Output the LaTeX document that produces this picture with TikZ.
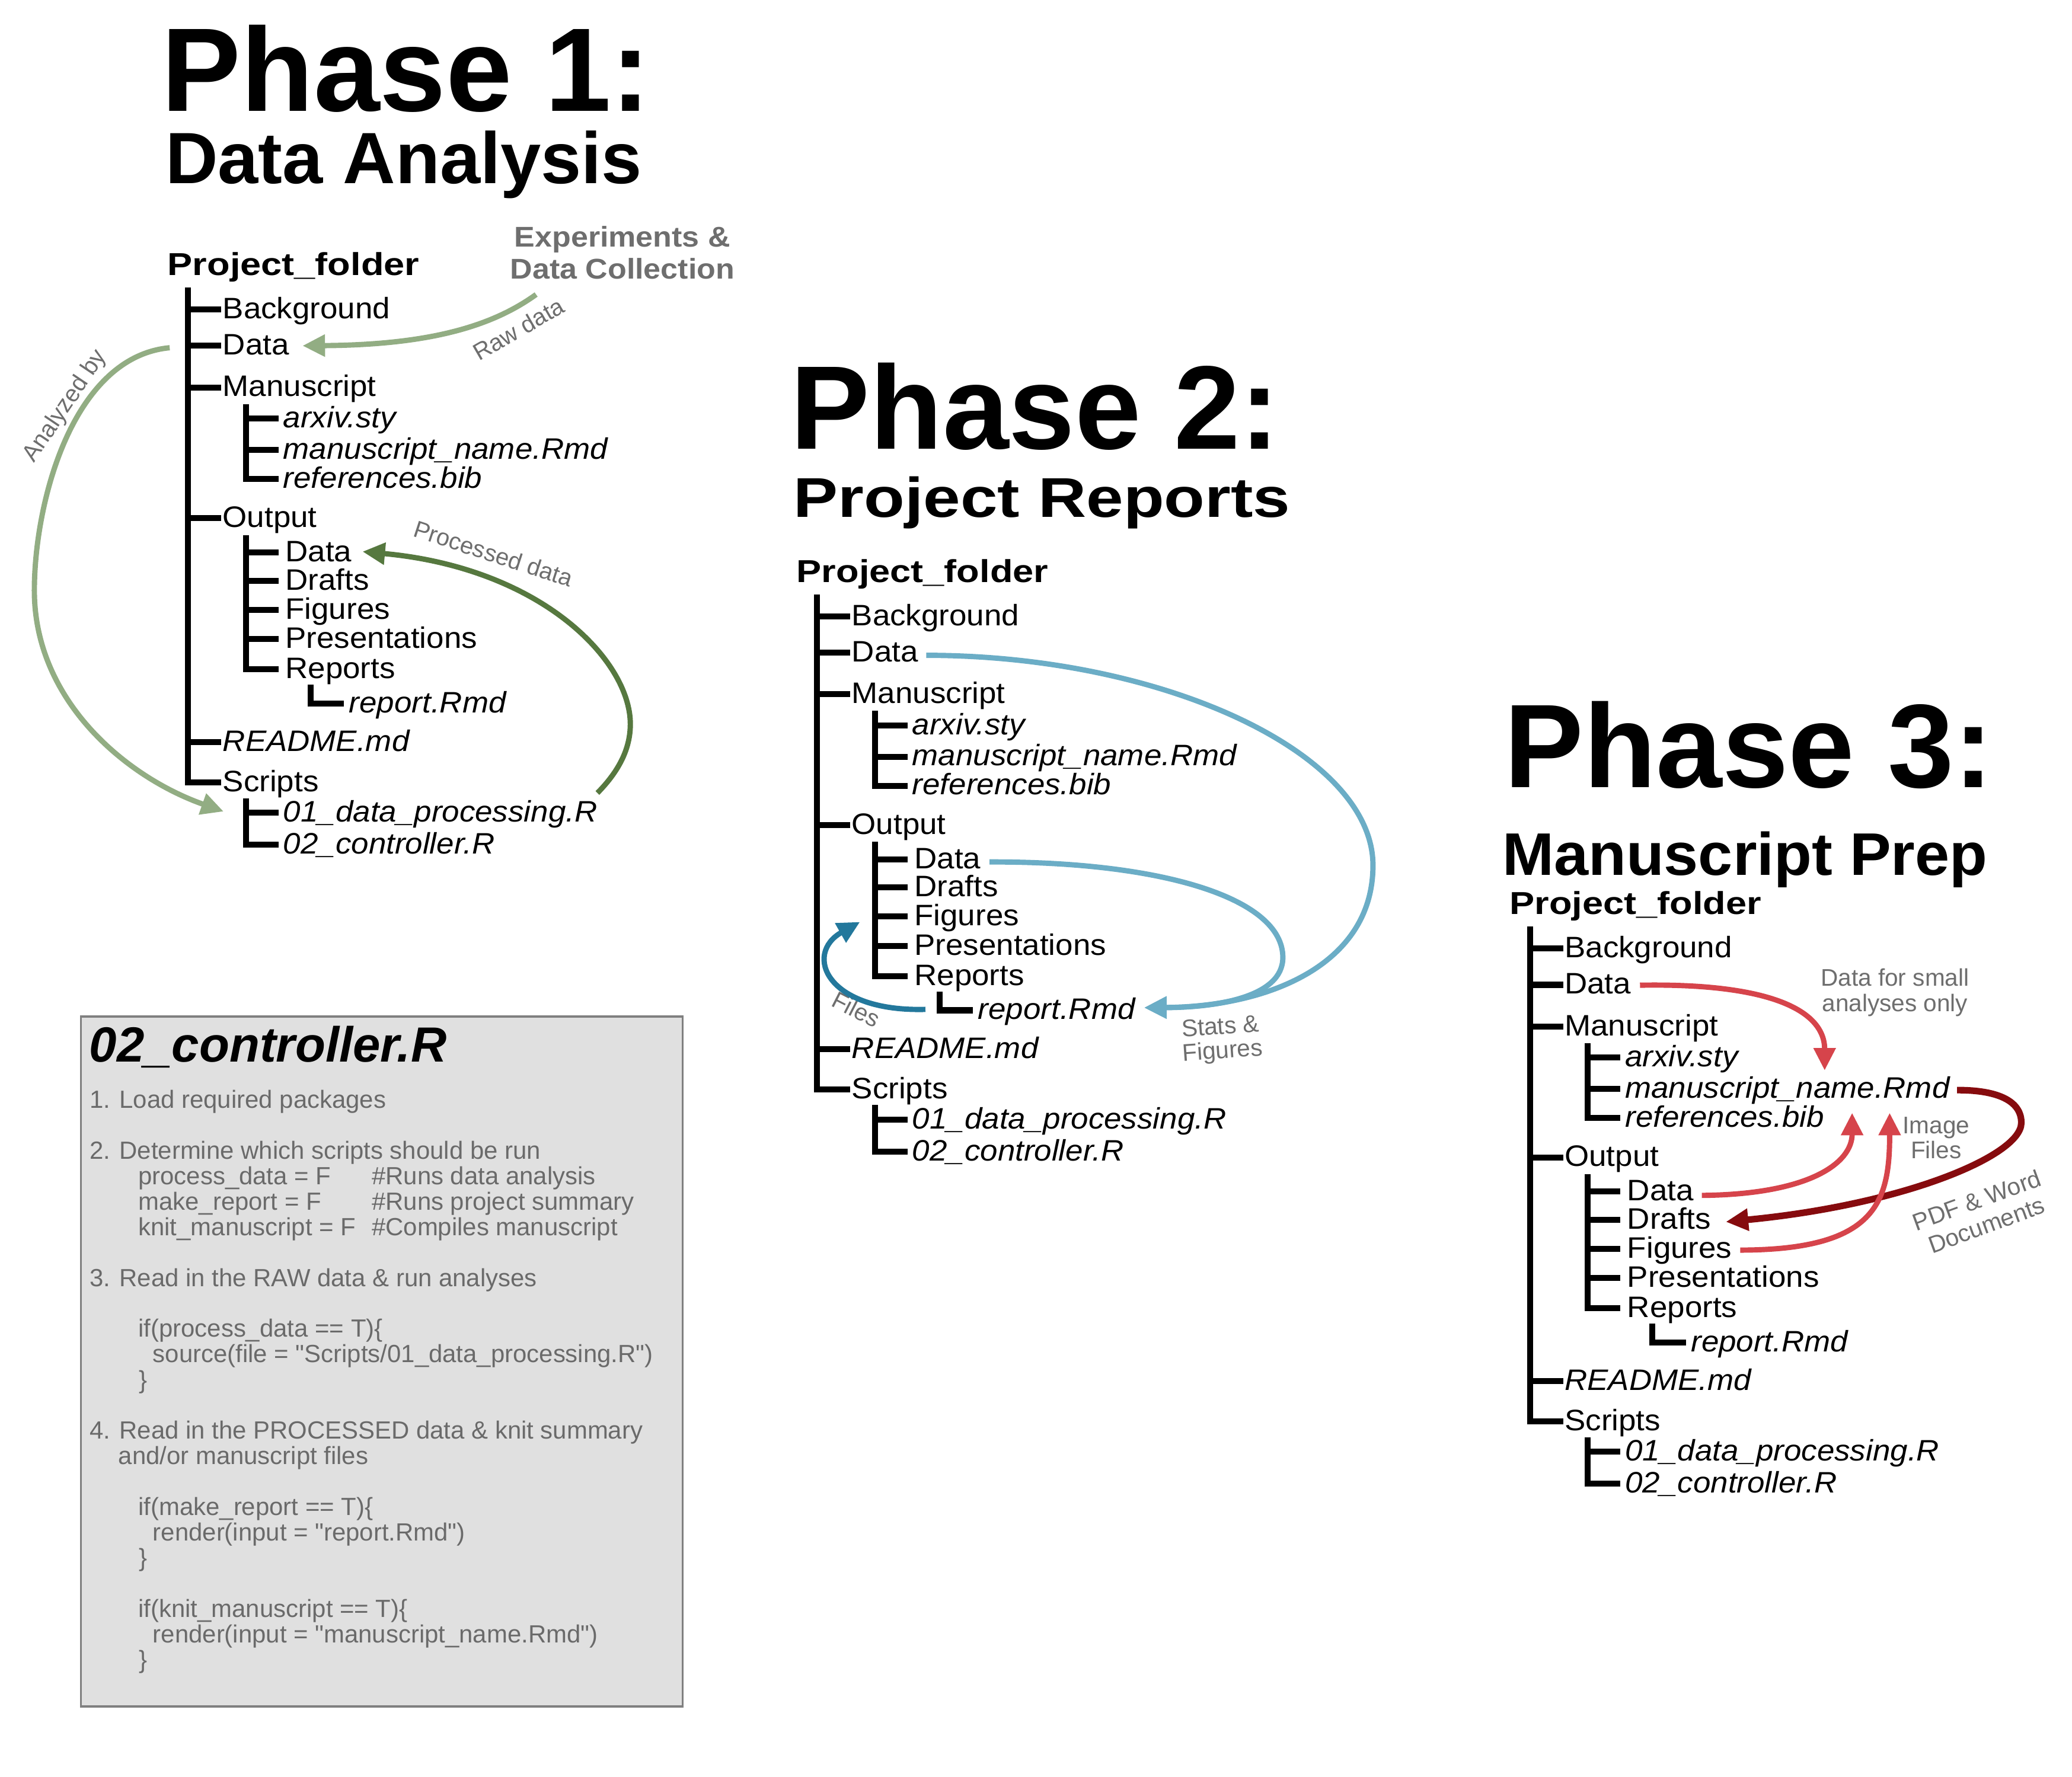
\documentclass[tikz,border=0pt]{standalone}
\usepackage{fontspec}
\setmainfont{Liberation Sans}
\newfontfamily\treefnt{Liberation Sans}[FakeStretch=1.06]
\newfontfamily\pffnt{Liberation Sans}[FakeStretch=1.18]
\newfontfamily\prfnt{Liberation Sans}[FakeStretch=1.19]
\newfontfamily\mpfnt{Liberation Sans}[FakeStretch=1.03]
\newfontfamily\expfnt{Liberation Sans}[FakeStretch=1.08]
\newfontfamily\codefnt{Liberation Sans}
\usetikzlibrary{arrows.meta,calc}
\definecolor{lgreen}{HTML}{92AD83}
\definecolor{dgreen}{HTML}{56783F}
\definecolor{lblue}{HTML}{6BADC6}
\definecolor{dblue}{HTML}{23789C}
\definecolor{lred}{HTML}{D6444B}
\definecolor{dred}{HTML}{860B0E}
\definecolor{lgray}{HTML}{6E6E6E}
\definecolor{codegray}{HTML}{6A6A6A}
\definecolor{boxfill}{HTML}{E0E0E0}
\definecolor{boxline}{HTML}{808080}

\tikzset{
 tree/.style={line width=2.25pt, line join=miter},
 itm/.style={anchor=west, inner xsep=0.4pt, inner ysep=0pt, text height=6.9pt, text depth=0pt, font=\treefnt\fontsize{11.2pt}{13pt}\selectfont},
 itmi/.style={itm, font=\treefnt\fontsize{11.2pt}{13pt}\selectfont\itshape, inner xsep=1.6pt},
 itmo/.style={itm, inner xsep=2.4pt},
 pf/.style={anchor=base west, inner sep=0pt, font=\pffnt\fontsize{12pt}{14pt}\selectfont\bfseries},
 ttl/.style={anchor=base west, inner sep=0pt, font=\fontsize{45pt}{50pt}\selectfont\bfseries},
 lbl/.style={inner sep=0pt, text=lgray, font=\fontsize{9pt}{10pt}\selectfont},
 lbl2/.style={inner sep=0pt, text=lgray, font=\fontsize{9.1pt}{10pt}\selectfont},
 expl/.style={anchor=base, inner sep=0pt, text=lgray, font=\expfnt\fontsize{10.8pt}{13pt}\selectfont\bfseries},
 arr/.style={line width=2pt, -{Triangle[length=8.5pt,width=8pt]}},
 code/.style={anchor=base west, inner sep=0pt, text=codegray, font=\codefnt\fontsize{9.4pt}{10pt}\selectfont},
}

\newcommand{\projtree}[1]{%
  \node[pf] (#1pf) at (126.5,208.4) {Project\_folder};
  \coordinate (#1top) at (142.4,217.7);
  \node[itm] (#1bg) at (167.4,234.3) {Background};
  \node[itm] (#1data) at (167.4,261.7) {Data};
  \node[itm] (#1man) at (167.4,293.2) {Manuscript};
  \node[itm] (#1out) at (167.4,392.3) {Output};
  \node[itm, font=\treefnt\fontsize{11.2pt}{13pt}\selectfont\itshape] (#1readme) at (167.4,561.7) {README.md};
  \node[itm] (#1scr) at (167.4,592.2) {Scripts};
  \draw[tree] (#1top) |- (#1scr.west);
  \foreach \n in {bg,data,man,out,readme}{\draw[tree] (#1top |- #1\n.west) -- (#1\n.west);}
  \coordinate (#1mtop) at (186,305.8);
  \node[itmi] (#1arxiv) at (210.8,316.8) {arxiv.sty};
  \node[itmi] (#1msn) at (210.8,340.4) {manuscript\_name.Rmd};
  \node[itmi] (#1refs) at (210.8,362.4) {references.bib};
  \draw[tree] (#1mtop) |- (#1refs.west);
  \foreach \n in {arxiv,msn}{\draw[tree] (#1mtop |- #1\n.west) -- (#1\n.west);}
  \coordinate (#1otop) at (186,404.9);
  \node[itmo] (#1odata) at (210.8,418.1) {Data};
  \node[itmo] (#1drafts) at (210.8,439.5) {Drafts};
  \node[itmo] (#1figs) at (210.8,461.5) {Figures};
  \node[itmo] (#1pres) at (210.8,483.6) {Presentations};
  \node[itmo] (#1reps) at (210.8,506.6) {Reports};
  \draw[tree] (#1otop) |- (#1reps.west);
  \foreach \n in {odata,drafts,figs,pres}{\draw[tree] (#1otop |- #1\n.west) -- (#1\n.west);}
  \coordinate (#1rtop) at (235,518.2);
  \node[itmi, inner xsep=1.75pt] (#1rep) at (260.3,532.4) {report.Rmd};
  \draw[tree] (#1rtop) |- (#1rep.west);
  \coordinate (#1stop) at (186,604.1);
  \node[itmi] (#1sa) at (210.8,615.2) {01\_data\_processing.R};
  \node[itmi] (#1sb) at (210.8,639.4) {02\_controller.R};
  \draw[tree] (#1stop) |- (#1sb.west);
  \draw[tree] (#1stop |- #1sa.west) -- (#1sa.west);
}

\begin{document}
\begin{tikzpicture}[x=0.5pt,y=-0.5pt]
\fill[white] (0,0) rectangle (1568,1345);
\useasboundingbox (0,0) rectangle (1568,1345);

% titles
\node[ttl] (t1) at (122,84.3) {Phase 1:};
\node[anchor=base west, inner sep=0pt, font=\fontsize{27.5pt}{30pt}\selectfont\bfseries] (t1s) at (124.8,138.9) {Data Analysis};
\node[ttl] (t2) at (598,340) {Phase 2:};
\node[anchor=base west, inner sep=0pt, font=\prfnt\fontsize{21.2pt}{24pt}\selectfont\bfseries] (t2s) at (600.3,391.5) {Project Reports};
\node[ttl] (t3) at (1138,596) {Phase 3:};
\node[anchor=base west, inner sep=0pt, font=\mpfnt\fontsize{22.75pt}{26pt}\selectfont\bfseries] (t3s) at (1136.5,662.5) {Manuscript Prep};

% trees
\projtree{p1}
\begin{scope}[shift={(476,232.3)}]\projtree{p2}\end{scope}
\begin{scope}[shift={(1015.5,483.7)}]\projtree{p3}\end{scope}

% controller box
\node[draw=boxline, fill=boxfill, line width=0.75pt, minimum width=227.7pt, minimum height=261.15pt, inner sep=0pt, anchor=north west] (ctrlbox) at (60.4,768.6) {};
\node[anchor=base west, inner sep=0pt, font=\fontsize{18.7pt}{20pt}\selectfont\bfseries\itshape] (ctitle) at (67.3,803.6) {02\_controller.R};
\node[code] (c1) at (67.4,838.6) {1. Load required packages};
\node[code] (c2) at (67.4,877.2) {2. Determine which scripts should be run};
\node[code] (c3) at (104.3,896.4) {process\_data = F};
\node[code] (c3b) at (281,896.4) {\#Runs data analysis};
\node[code] (c4) at (104.3,915.7) {make\_report = F};
\node[code] (c4b) at (281,915.7) {\#Runs project summary};
\node[code] (c5) at (104.3,935) {knit\_manuscript = F};
\node[code] (c5b) at (281,935) {\#Compiles manuscript};
\node[code] (c6) at (67.4,973.6) {3. Read in the RAW data \& run analyses};
\node[code] (c7) at (104.3,1012.1) {if(process\_data == T)\{};
\node[code] (c8) at (115.3,1031.4) {source(file = "Scripts/01\_data\_processing.R")};
\node[code] (c9) at (104.9,1050.7) {\}};
\node[code] (c10) at (67.4,1089.2) {4. Read in the PROCESSED data \& knit summary};
\node[code] (c11) at (89.2,1108.5) {and/or manuscript files};
\node[code] (c12) at (104.3,1147.1) {if(make\_report == T)\{};
\node[code] (c13) at (115.3,1166.4) {render(input = "report.Rmd")};
\node[code] (c14) at (104.9,1185.6) {\}};
\node[code] (c15) at (104.3,1224.2) {if(knit\_manuscript == T)\{};
\node[code] (c16) at (115.3,1243.5) {render(input = "manuscript\_name.Rmd")};
\node[code] (c17) at (104.9,1262.8) {\}};

% labels
\node[expl] (exp) at (471,186.8) {Experiments \&};
\node[expl] (dcol) at (471,211.3) {Data Collection};
\node[lbl, rotate=30] (rawlbl) at (392.4,249) {Raw data};
\node[lbl, rotate=56] (anlbl) at (49.5,307.5) {Analyzed by};
\node[lbl, rotate=-18] (proclbl) at (373.4,419) {Processed data};
\node[lbl, rotate=-27] (fileslbl) at (648,764) {Files};
\node[lbl2, rotate=4] (stats1) at (923.5,776.6) {Stats \&};
\node[lbl2, rotate=4] (stats2) at (925.2,796.3) {Figures};
\node[lbl2, anchor=base] (dfs1) at (1434,746.5) {Data for small};
\node[lbl2, anchor=base] (dfs2) at (1434,765.5) {analyses only};
\node[lbl2, anchor=base] (img1) at (1465.2,858) {Image};
\node[lbl2, anchor=base] (img2) at (1465.2,877) {Files};
\node[lbl2, rotate=20] (pdf1) at (1495.9,908.4) {PDF \& Word};
\node[lbl2, rotate=20] (pdf2) at (1503.3,927.4) {Documents};

% phase 1 arrows
\draw[arr, lgreen] ($(dcol.south west)+(20,11)$) .. controls (375,245) and (330,261) .. ($(p1data.east)+(9,0)$);
\draw[arr, lgreen] ($(p1data.west)+(-39,1.5)$) .. controls (55,270) and (26,380) .. (26,447) .. controls (26,530) and (95,588) .. ($(p1sa.west)+(-41.6,-1)$);
\draw[arr, dgreen] ($(p1sa.east)+(-3.5,-15)$) .. controls (470,582) and (477,565) .. (477,548) .. controls (477,500) and (410,430) .. ($(p1odata.east)+(3,-0.6)$);

% phase 2 arrows
\draw[arr, lblue] ($(p2data.east)+(5,2)$) .. controls (880,496) and (1039,570) .. (1039,655) .. controls (1039,730) and (960,762) .. ($(p2rep.east)+(3,-2)$);
\draw[arr, lblue] ($(p2odata.east)+(1.5,2)$) .. controls (880,652) and (970.8,680) .. (970.8,724.7) .. controls (970.8,755) and (920,762.5) .. ($(p2rep.east)+(3,-2)$);
\draw[arr, dblue] ($(p2rep.west)+(-36,-0.7)$) .. controls (625,766) and (608,722) .. ($(p2figs.west)+(-36,4)$);

% phase 3 arrows
\draw[arr, dred, line width=2.5pt] ($(p3msn.east)+(2,1)$) .. controls (1515,825) and (1530,835) .. (1529.6,850.2) .. controls (1529,875) and (1440,912) .. ($(p3drafts.east)+(6,1.6)$);
\draw[arr, lred] ($(p3data.east)+(5.6,0.3)$) .. controls (1340,744) and (1380.8,765) .. ($(p3msn.west)+(154.5,-13.9)$);
\draw[arr, lred] ($(p3odata.east)+(1,3)$) .. controls (1370,904) and (1401.6,880) .. ($(p3msn.west)+(175.3,18.2)$);
\draw[arr, lred] ($(p3figs.east)+(1,1)$) .. controls (1420,946) and (1430,910) .. ($(p3msn.west)+(203.7,18.2)$);
\end{tikzpicture}
\end{document}
